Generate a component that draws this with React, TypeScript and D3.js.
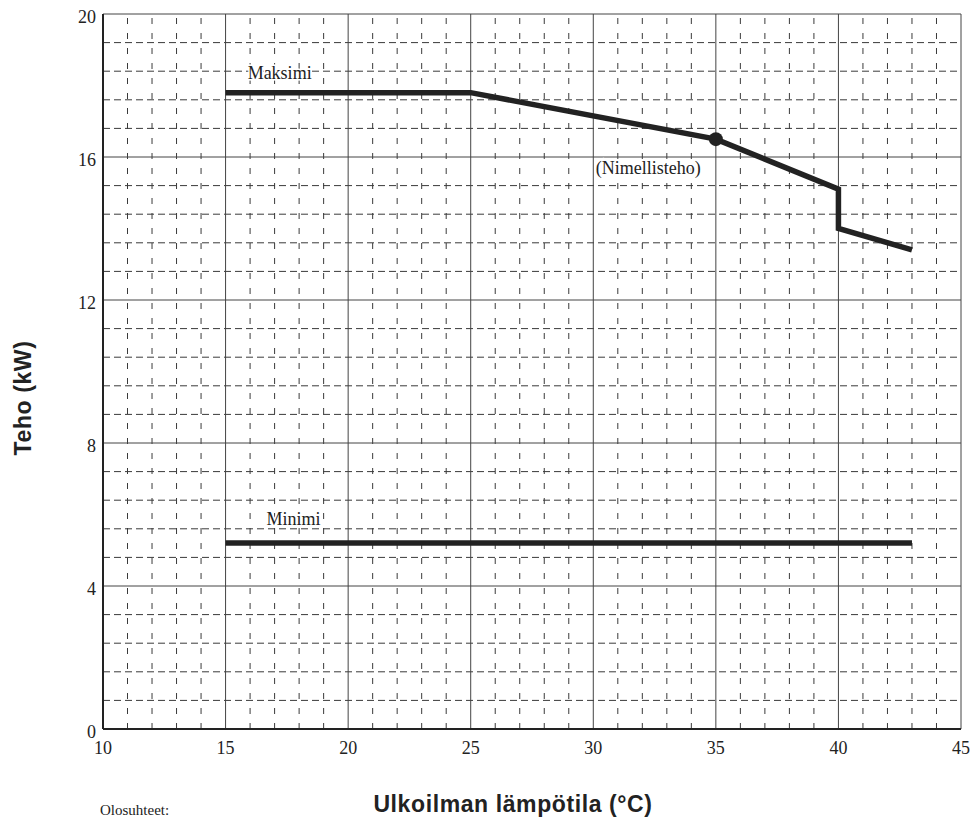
import * as d3 from "d3";
import { useEffect, useRef } from "react";

const X_TICKS = [10, 15, 20, 25, 30, 35, 40, 45];
const Y_TICKS = [0, 4, 8, 12, 16, 20];

// Maksimi-käyrä (lämpötila, teho)
const MAX_TEMP = [15, 25, 35, 40, 40, 43];
const MAX_POWER = [17.8, 17.8, 16.5, 15.1, 14.0, 13.4];

// Minimi-käyrä
const MIN_TEMP = [15, 43];
const MIN_POWER = [5.2, 5.2];

const RATED_TEMP = 35;
const RATED_POWER = 16.5;

const margin = { top: 14, right: 11, bottom: 91, left: 103 };
const width = 972 - margin.left - margin.right;
const height = 820 - margin.top - margin.bottom;

const serif = "'Liberation Serif', 'Times New Roman', serif";
const sans = "'Liberation Sans', Arial, sans-serif";

export default function App() {
  const svgRef = useRef<SVGSVGElement>(null);

  useEffect(() => {
    const svgEl = d3.select(svgRef.current);
    svgEl.selectAll("*").remove();
    svgEl.style("background", "#fff");

    const x = d3.scaleLinear().domain([10, 45]).range([0, width]);
    const y = d3.scaleLinear().domain([0, 20]).range([height, 0]);

    const svg = svgEl
      .append("g")
      .attr("transform", `translate(${margin.left},${margin.top})`);

    // minor dashed grid
    const minorX = d3.range(10, 46, 1).filter((v) => v % 5 !== 0);
    const minorY = d3
      .range(0, 26)
      .map((i) => +(i * 0.8).toFixed(2))
      .filter((v) => v <= 20 && Math.abs(v / 4 - Math.round(v / 4)) > 1e-6);

    svg
      .append("g")
      .selectAll("line")
      .data(minorY)
      .enter()
      .append("line")
      .attr("x1", 0)
      .attr("x2", width)
      .attr("y1", (d) => y(d))
      .attr("y2", (d) => y(d))
      .attr("stroke", "#3a3a3a")
      .attr("stroke-width", 1)
      .attr("stroke-dasharray", "7,4");

    svg
      .append("g")
      .selectAll("line")
      .data(minorX)
      .enter()
      .append("line")
      .attr("x1", (d) => x(d))
      .attr("x2", (d) => x(d))
      .attr("y1", height)
      .attr("y2", 0)
      .attr("stroke", "#3a3a3a")
      .attr("stroke-width", 1)
      .attr("stroke-dasharray", "6,9");

    // major solid grid
    svg
      .append("g")
      .selectAll("line")
      .data(Y_TICKS)
      .enter()
      .append("line")
      .attr("x1", 0)
      .attr("x2", width)
      .attr("y1", (d) => y(d))
      .attr("y2", (d) => y(d))
      .attr("stroke", "#444")
      .attr("stroke-width", 1);

    svg
      .append("g")
      .selectAll("line")
      .data(X_TICKS)
      .enter()
      .append("line")
      .attr("x1", (d) => x(d))
      .attr("x2", (d) => x(d))
      .attr("y1", height)
      .attr("y2", 0)
      .attr("stroke", "#444")
      .attr("stroke-width", 1);

    // axes lines (left & bottom thicker)
    svg
      .append("line")
      .attr("x1", 0)
      .attr("x2", 0)
      .attr("y1", 0)
      .attr("y2", height)
      .attr("stroke", "#222")
      .attr("stroke-width", 2);
    svg
      .append("line")
      .attr("x1", 0)
      .attr("x2", width)
      .attr("y1", height)
      .attr("y2", height)
      .attr("stroke", "#222")
      .attr("stroke-width", 2);

    // tick labels
    svg
      .append("g")
      .selectAll("text")
      .data(X_TICKS)
      .enter()
      .append("text")
      .attr("x", (d) => x(d))
      .attr("y", height + 25)
      .attr("text-anchor", "middle")
      .attr("font-family", serif)
      .attr("font-size", 18)
      .attr("fill", "#222")
      .text((d) => d);

    svg
      .append("g")
      .selectAll("text")
      .data(Y_TICKS)
      .enter()
      .append("text")
      .attr("x", -7)
      .attr("y", (d) => y(d) + 9)
      .attr("text-anchor", "end")
      .attr("font-family", serif)
      .attr("font-size", 18)
      .attr("fill", "#222")
      .text((d) => d);

    // data lines
    const line = d3
      .line<[number, number]>()
      .x((d) => x(d[0]))
      .y((d) => y(d[1]));

    const maxData = MAX_TEMP.map((t, i) => [t, MAX_POWER[i]] as [number, number]);
    const minData = MIN_TEMP.map((t, i) => [t, MIN_POWER[i]] as [number, number]);

    [maxData, minData].forEach((d) => {
      svg
        .append("path")
        .attr("d", line(d))
        .attr("fill", "none")
        .attr("stroke", "#222")
        .attr("stroke-width", 5.5)
        .attr("stroke-linejoin", "miter");
    });

    svg
      .append("circle")
      .attr("cx", x(RATED_TEMP))
      .attr("cy", y(RATED_POWER))
      .attr("r", 7)
      .attr("fill", "#222");

    // annotations
    const note = (tx: number, ty: number, label: string) =>
      svg
        .append("text")
        .attr("x", x(tx))
        .attr("y", y(ty))
        .attr("font-family", serif)
        .attr("font-size", 18)
        .attr("fill", "#222")
        .attr("paint-order", "stroke")
        .attr("stroke", "#fff")
        .attr("stroke-width", 3)
        .text(label);

    note(15.9, 18.18, "Maksimi");
    note(30.1, 15.52, "(Nimellisteho)");
    note(16.67, 5.71, "Minimi");

    // axis titles
    svgEl
      .append("text")
      .attr("transform", `translate(31,398) rotate(-90)`)
      .attr("text-anchor", "middle")
      .attr("font-family", sans)
      .attr("font-weight", "bold")
      .attr("font-size", 23)
      .attr("letter-spacing", 0.6)
      .attr("fill", "#222")
      .text("Teho (kW)");

    svgEl
      .append("text")
      .attr("x", 513)
      .attr("y", 812)
      .attr("text-anchor", "middle")
      .attr("font-family", sans)
      .attr("font-weight", "bold")
      .attr("font-size", 23)
      .attr("letter-spacing", 0.6)
      .attr("fill", "#222")
      .text("Ulkoilman lämpötila (°C)");

    svgEl
      .append("text")
      .attr("x", 100)
      .attr("y", 815)
      .attr("font-family", serif)
      .attr("font-size", 15)
      .attr("fill", "#222")
      .text("Olosuhteet:");
  }, []);

  return (
    <svg
      ref={svgRef}
      width={972}
      height={820}
      style={{ position: "absolute", left: 0, top: 0 }}
    />
  );
}
